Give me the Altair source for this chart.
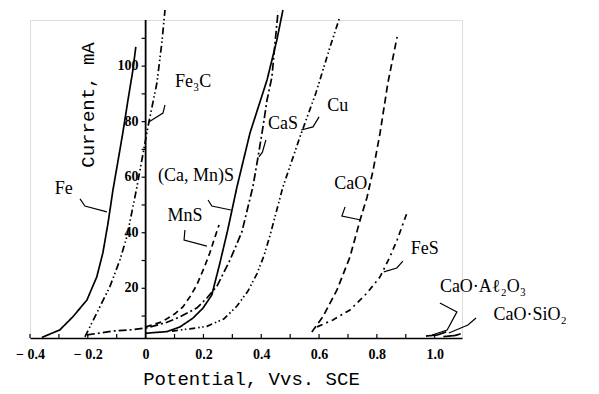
import altair as alt
import pandas as pd

# ---------------- data (potential V vs SCE, current mA) ----------------
fe_x = [-0.359, -0.297, -0.252, -0.203, -0.169, -0.148, -0.130, -0.113, -0.095, -0.079, -0.061, -0.044, -0.034]
fe_y = [2.3, 5.0, 9.7, 15.8, 24.1, 32.7, 43.5, 55.4, 66.2, 75.9, 87.8, 98.6, 106.9]

fe3c_x = [-0.210, -0.169, -0.124, -0.089, -0.065, -0.044, -0.030, -0.013, 0.008, 0.039, 0.056, 0.067]
fe3c_y = [2.5, 11.1, 20.5, 30.2, 38.5, 49.3, 56.5, 66.2, 78.1, 93.9, 108.3, 120.2]

cas_x = [-0.203, -0.113, -0.054, 0.001, 0.067, 0.119, 0.177, 0.212, 0.247, 0.292, 0.333, 0.371, 0.389, 0.406, 0.420, 0.437, 0.447, 0.458]
cas_y = [3.2, 4.6, 5.0, 5.7, 7.5, 9.7, 12.9, 16.5, 20.8, 30.2, 40.3, 56.5, 67.3, 78.1, 87.8, 96.1, 107.6, 119.5]

camns_x = [-0.002, 0.074, 0.119, 0.163, 0.198, 0.229, 0.257, 0.284, 0.316, 0.361, 0.420, 0.454, 0.475]
camns_y = [3.8, 4.4, 6.1, 9.2, 12.8, 17.6, 29.1, 41.0, 56.5, 75.9, 95.0, 109.4, 120.2]

mns_x = [0.001, 0.056, 0.101, 0.129, 0.153, 0.177, 0.202, 0.222, 0.240, 0.254]
mns_y = [6.1, 7.9, 10.8, 13.3, 16.9, 21.2, 27.3, 32.7, 38.5, 42.8]

cu_x = [0.091, 0.153, 0.212, 0.271, 0.316, 0.354, 0.385, 0.409, 0.430, 0.475, 0.534, 0.589, 0.638, 0.672]
cu_y = [4.6, 5.4, 6.3, 9.0, 13.6, 19.0, 25.2, 31.6, 38.9, 56.5, 74.5, 90.3, 106.9, 117.7]

cao_x = [0.575, 0.613, 0.662, 0.707, 0.742, 0.766, 0.787, 0.811, 0.838, 0.870]
cao_y = [4.3, 9.7, 19.4, 31.3, 44.6, 52.8, 62.5, 75.9, 93.9, 110.5]

fes_x = [0.593, 0.648, 0.707, 0.766, 0.811, 0.845, 0.870, 0.904]
fes_y = [6.1, 8.6, 12.2, 18.3, 24.1, 31.3, 37.4, 47.1]

caoal_x = [0.97, 1.01, 1.04]
caoal_y = [2.8, 3.2, 4.3]

caosi_x = [1.03, 1.07, 1.09]
caosi_y = [2.6, 3.0, 3.6]

series_names = ["Fe", "Fe3C", "CaS", "(Ca,Mn)S", "MnS", "Cu", "CaO", "FeS", "CaO-Al2O3", "CaO-SiO2"]
series_x = [fe_x, fe3c_x, cas_x, camns_x, mns_x, cu_x, cao_x, fes_x, caoal_x, caosi_x]
series_y = [fe_y, fe3c_y, cas_y, camns_y, mns_y, cu_y, cao_y, fes_y, caoal_y, caosi_y]

# curve labels and their positions (data coordinates)
label_text = ["Fe", "Fe₃C", "(Ca, Mn)S", "MnS", "CaS", "Cu", "CaO", "FeS", "CaO·Aℓ₂O₃", "CaO·SiO₂"]
label_x = [-0.283, 0.164, 0.174, 0.136, 0.475, 0.665, 0.710, 0.966, 1.167, 1.330]
label_y = [55.7, 94.3, 60.4, 46.0, 79.1, 85.6, 57.6, 34.2, 20.5, 10.4]

# leader (arrow) lines from labels to curves
leader_x = [[-0.227, -0.210, -0.134], [0.067, 0.060, 0.011], [0.216, 0.229, 0.295],
            [0.136, 0.133, 0.212], [0.416, 0.404, 0.392], [0.600, 0.579, 0.538],
            [0.690, 0.679, 0.745], [0.890, 0.869, 0.824], [1.018, 1.077, 1.043, 0.991],
            [1.143, 1.115, 1.049]]
leader_y = [[52.2, 49.6, 47.5], [86.0, 83.1, 79.9], [51.8, 49.6, 48.2],
            [41.0, 37.4, 35.2], [73.4, 69.0, 67.3], [81.7, 78.1, 77.0],
            [49.3, 46.0, 44.6], [29.8, 27.3, 25.9], [14.7, 11.5, 5.0, 3.2],
            [9.3, 6.8, 3.9]]

x_label_values = [-0.4, -0.2, 0, 0.2, 0.4, 0.6, 0.8, 1.0]
x_tick_values = [-0.4, -0.3, -0.2, -0.1, 0, 0.1, 0.2, 0.3, 0.4, 0.5, 0.6, 0.7, 0.8, 0.9, 1.0]
y_tick_values = [10, 20, 30, 40, 50, 60, 70, 80, 90, 100, 110]
y_label_values = [20, 40, 60, 80, 100]
y_label_text = ["20", "40", "60", "80", "100"]

# ---------------- tables ----------------
rows = []
for name, xs, ys in zip(series_names, series_x, series_y):
    for i, (xv, yv) in enumerate(zip(xs, ys)):
        rows.append({"series": name, "potential": xv, "current": yv, "idx": i})
df = pd.DataFrame(rows)

lab_df = pd.DataFrame({"label": label_text, "potential": label_x, "current": label_y})

lrows = []
for k, (xs, ys) in enumerate(zip(leader_x, leader_y)):
    for i, (xv, yv) in enumerate(zip(xs, ys)):
        lrows.append({"lead": k, "potential": xv, "current": yv, "idx": i})
lead_df = pd.DataFrame(lrows)

xtick_df = pd.DataFrame({"potential": x_tick_values})
ytick_df = pd.DataFrame({"current": y_tick_values})
ylab_df = pd.DataFrame({"current": y_label_values, "label": y_label_text})

# ---------------- layout ----------------
W, H = 432, 318
XMIN, XMAX = -0.4, 1.0945
YMIN, YMAX = 2.1, 116.6
x_scale = alt.Scale(domain=[XMIN, XMAX], nice=False, zero=False)
y_scale = alt.Scale(domain=[YMIN, YMAX], nice=False, zero=False)

dash_range = [[1, 0], [7, 3, 1.5, 2.5, 1.5, 3], [8, 3, 2, 3], [1, 0], [6, 4],
              [6, 3, 1.5, 2.5, 1.5, 3], [7, 4], [6, 4, 2, 4], [1, 0], [1, 0]]

TITLE_FONT = "Liberation Mono"
NUM_FONT = "Liberation Serif"

x_axis = alt.Axis(
    values=x_label_values,
    labelExpr="datum.value < 0 ? '− ' + format(-datum.value, '.1f') : (datum.value == 0 ? '0' : format(datum.value, '.1f'))",
    ticks=False, grid=False, labelFlush=False, labelOverlap=False,
    domainColor="black", domainWidth=1.6,
    labelFont=NUM_FONT, labelFontWeight="bold", labelFontSize=14, labelColor="black",
    labelPadding=9,
    title="Potential, Vvs. SCE", titleFont=TITLE_FONT, titleFontSize=19, titleFontWeight="normal",
    titleColor="black", titleX=221, titleY=40, titleBaseline="middle", titleAnchor="middle",
)

lines = alt.Chart(df).mark_line(color="black", strokeWidth=1.7, clip=False).encode(
    x=alt.X("potential:Q", scale=x_scale, axis=x_axis),
    y=alt.Y("current:Q", scale=y_scale, axis=None),
    strokeDash=alt.StrokeDash("series:N", scale=alt.Scale(domain=series_names, range=dash_range), legend=None),
    detail="series:N",
    order="idx:Q",
)

leaders = alt.Chart(lead_df).mark_line(color="black", strokeWidth=1.2, clip=False).encode(
    x=alt.X("potential:Q", scale=x_scale),
    y=alt.Y("current:Q", scale=y_scale),
    detail="lead:N",
    order="idx:Q",
)

texts = alt.Chart(lab_df).mark_text(
    font=NUM_FONT, fontSize=18, color="black", align="center", baseline="middle"
).encode(
    x=alt.X("potential:Q", scale=x_scale),
    y=alt.Y("current:Q", scale=y_scale),
    text="label:N",
)

# vertical current axis drawn at potential = 0
y_line = alt.Chart(pd.DataFrame({"p": [0]})).mark_rule(color="black", strokeWidth=1.8).encode(
    x=alt.X("p:Q", scale=x_scale),
    y=alt.datum(YMIN, scale=y_scale) if False else alt.Y(datum=YMIN, scale=y_scale),
    y2=alt.Y2(datum=YMAX),
)

y_ticks = alt.Chart(ytick_df).mark_rule(color="black", strokeWidth=1.2, x2Offset=-4).encode(
    x=alt.X(datum=0, scale=x_scale),
    x2=alt.X2(datum=0),
    y=alt.Y("current:Q", scale=y_scale),
)

y_labels = alt.Chart(ylab_df).mark_text(
    font=NUM_FONT, fontWeight="bold", fontSize=14, color="black", align="right", baseline="middle", dx=-7
).encode(
    x=alt.X(datum=0, scale=x_scale),
    y=alt.Y("current:Q", scale=y_scale),
    text="label:N",
)

y_title = alt.Chart(pd.DataFrame({"t": ["Current, mA"]})).mark_text(
    font=TITLE_FONT, fontSize=19, color="black", angle=270, align="center", baseline="middle"
).encode(
    x=alt.value(58), y=alt.value(85), text="t:N",
)

# small upward ticks on the potential axis
x_ticks = alt.Chart(xtick_df).mark_rule(color="black", strokeWidth=1.2, y2Offset=-4).encode(
    x=alt.X("potential:Q", scale=x_scale),
    y=alt.Y(datum=YMIN, scale=y_scale),
    y2=alt.Y2(datum=YMIN),
)

chart = alt.layer(lines, leaders, texts, y_line, y_ticks, y_labels, y_title, x_ticks).properties(
    width=W, height=H,
    autosize=alt.AutoSizeParams(type="none"),
    padding={"left": 22, "top": 12, "right": 125, "bottom": 52},
).configure_view(stroke=None).configure(background="white")

chart.save("out.html", embed_options={"renderer": "svg", "actions": False})
